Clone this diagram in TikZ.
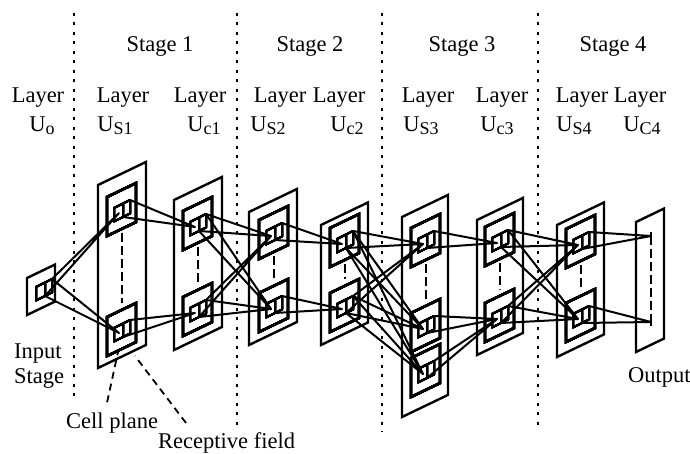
\documentclass[tikz,border=0pt]{standalone}
\usepackage{fontspec}
\setmainfont{Liberation Serif}
\usetikzlibrary{calc}

\tikzset{
  lbl/.style={font=\fontsize{22.5}{27}\selectfont, inner sep=1pt},
  slab/.style={line width=2.4pt},
  rf/.style={line width=2pt, line join=round},
  conn/.style={line width=2pt, line join=round},
  gap/.style={line width=2pt, dash pattern=on 9pt off 4pt},
  stagediv/.style={line width=2.2pt, dash pattern=on 3pt off 6.5pt},
  leader/.style={line width=1.8pt, dash pattern=on 7pt off 5pt},
}

\newcommand{\sub}[1]{\raisebox{-3pt}{\fontsize{18}{18}\selectfont #1}}
% slanted plane: x, y (top left), width, height
\newcommand{\slab}[4]{\draw[slab] (#1,#2) -- ++(#3,-0.48*#3) -- ++(0,#4) -- ++(-#3,0.48*#3) -- cycle;}
% cell plane: name, x, y
\newcommand{\cplane}[3]{\slab{#2}{#3}{29}{39}
  \coordinate (#1-n) at (#2+14.5,#3-7);
  \coordinate (#1-s) at (#2+14.5,#3+32);}
% receptive field box: name, x, y
\newcommand{\rfield}[3]{%
  \begin{scope}[shift={(#2,#3)}]
    \draw[rf] (-9,-4) -- (0,-8.5) -- (0,5) -- (-9,9.5) -- cycle;
    \draw[rf] (-9,-4) -- (-2,-7.5) -- (7,-12) -- (0,-8.5);
    \draw[rf] (7,-12) -- (7,1.5) -- (0,5);
    \coordinate (#1) at (-4,1);
    \coordinate (#1-t) at (7,-12);
    \coordinate (#1-b) at (0,5);
  \end{scope}}

\begin{document}
\begin{tikzpicture}[x=1pt,y=-1pt]
  \useasboundingbox (0,0) rectangle (690,454);
  %Stage borders
  \foreach \x/\e in {74/402, 237/428, 382/432, 538/428}
    \draw[stagediv] (\x,13) -- (\x,\e);
  %Titles
  \foreach \x/\k in {160/1, 310/2, 462/3, 613/4}
    \node[lbl, anchor=base] (stage\k) at (\x,52) {Stage \k};
  \foreach \x/\n in {38/o, 123/s1, 200/c1, 280/s2, 339/c2, 428/s3, 502/c3, 582/s4, 640/c4}
    \node[lbl, anchor=base] (layer-\n) at (\x,103) {Layer};
  \foreach \x/\n/\t in {42/o/o, 115/s1/S1, 204/c1/c1, 268/s2/S2, 347/c2/c2, 421/s3/S3, 497/c3/c3, 574/s4/S4, 642/c4/C4}
    \node[lbl, anchor=base] (unit-\n) at (\x,132) {U\sub{\t}};
  %Layers
  \foreach \x/\y/\w/\h in {27/278/28/37, 98/185/48/183, 174/200/48/150, 249/212/48/133,
      321/225/47/120, 402/217/46/200, 477/220/46/135, 557/225/47/132, 636/222/28/130}
    \slab{\x}{\y}{\w}{\h}
  %Cell planes and receptive fields
  \rfield{u0}{45}{291}
  \foreach \n/\x/\y in {s1a/107/197, s1b/107/317, c1a/183/211, c1b/183/297, s2a/259/220,
      s2b/259/293, c2a/330/228, c2b/330/293, s3a/411/228, s3b/411/313, s3c/411/358,
      c3a/485/227, c3b/485/303, s4a/566/229, s4b/566/303}
  {
    \cplane{p\n}{\x}{\y}
    \rfield{\n}{\x+16}{\y+15}
  }
  \foreach \a/\b in {s1a/s1b, c1a/c1b, s2a/s2b, c2a/c2b, s3a/s3b, c3a/c3b, s4a/s4b}
    \draw[gap, shorten <=4pt, shorten >=7pt] (p\a-s) -- (p\b-n);
  %Output cells
  \coordinate (c4a) at (651,236);
  \coordinate (c4b) at (651,322);
  \draw[gap] (c4a) -- (c4b);
  \draw[conn] ($(c4a)+(0,-4)$) -- ($(c4a)+(0,4)$);
  \draw[conn] ($(c4b)+(0,-4)$) -- ($(c4b)+(0,4)$);
  %Connections
  \foreach \a/\b in {u0/s1a, u0/s1b, s1a/c1a, s1b/c1b, c1a/s2a, c1a/s2b, c1b/s2a, c1b/s2b,
      s2a/c2a, s2b/c2b, c2a/s3a, c2a/s3b, c2a/s3c, c2b/s3a, c2b/s3b, c2b/s3c,
      s3a/c3a, s3b/c3b, s3c/c3b, c3a/s4a, c3a/s4b, c3b/s4a, c3b/s4b, s4a/c4a, s4b/c4b}
    \draw[conn] (\a-t) -- (\b) -- (\a-b);
  %Notes
  \node[lbl, anchor=base west] (input) at (13,358) {Input};
  \node[lbl, anchor=base west] (inputstage) at (13,383) {Stage};
  \node[lbl, anchor=base west] (cellplane) at (65,428) {Cell plane};
  \node[lbl, anchor=base west] (recfield) at (157,448) {Receptive field};
  \node[lbl, anchor=base west] (output) at (627,382) {Output};
  \coordinate (cp-tip) at (118,352);
  \coordinate (rf-tip) at (135,356);
  \draw[leader] ([xshift=-5pt,yshift=9pt]cellplane.north) -- (cp-tip);
  \draw[leader] ([xshift=29pt,yshift=8pt]recfield.north west) -- (rf-tip);
\end{tikzpicture}
\end{document}
